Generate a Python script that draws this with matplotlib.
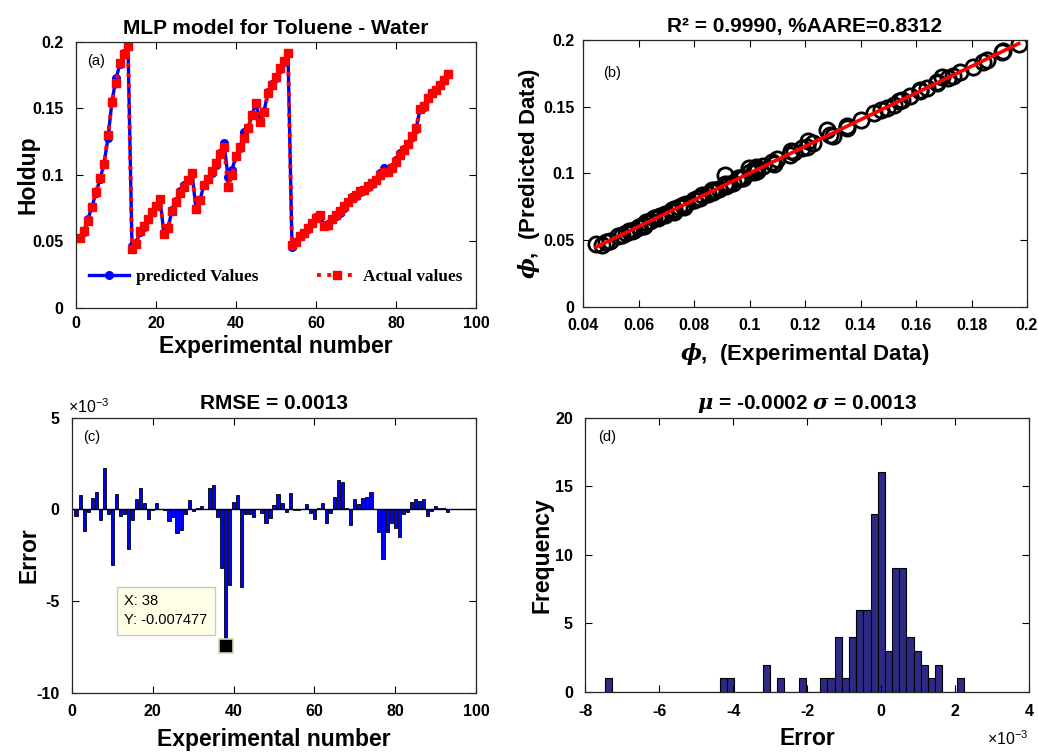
import numpy as np
import matplotlib
matplotlib.use("Agg")
import matplotlib.pyplot as plt
from matplotlib.ticker import MultipleLocator, FormatStrFormatter, FuncFormatter

plt.rcParams["font.family"] = ["Liberation Sans", "DejaVu Sans"]
plt.rcParams["font.weight"] = "bold"
plt.rcParams["axes.unicode_minus"] = False
plt.rcParams["mathtext.fontset"] = "custom"
plt.rcParams["mathtext.rm"] = "Liberation Sans:regular"
plt.rcParams["mathtext.it"] = "DejaVu Serif:italic:bold"
plt.rcParams["mathtext.bf"] = "Liberation Sans:bold"

# ---------------------------------------------------------------- data
# measured hold-up for the 93 experimental runs
actual = np.array([
    0.0525, 0.0582, 0.0657, 0.0760, 0.0870, 0.0977, 0.1080, 0.1300, 0.1550, 0.1695,
    0.1840, 0.1910, 0.1970, 0.0447, 0.0482, 0.0577, 0.0620, 0.0670, 0.0720, 0.0770,
    0.0820, 0.0555, 0.0600, 0.0727, 0.0800, 0.0865, 0.0910, 0.0960, 0.1015, 0.0747,
    0.0815, 0.0925, 0.0970, 0.1027, 0.1087, 0.1160, 0.1210, 0.0912, 0.0999, 0.1145,
    0.1207, 0.1280, 0.1350, 0.1450, 0.1540, 0.1400, 0.1475, 0.1615, 0.1677, 0.1735,
    0.1805, 0.1855, 0.1915, 0.0470, 0.0497, 0.0540, 0.0567, 0.0600, 0.0640, 0.0677,
    0.0697, 0.0620, 0.0627, 0.0670, 0.0697, 0.0727, 0.0765, 0.0800, 0.0827, 0.0850,
    0.0877, 0.0890, 0.0915, 0.0940, 0.0965, 0.1000, 0.1025, 0.1020, 0.1050, 0.1100,
    0.1150, 0.1190, 0.1230, 0.1290, 0.1350, 0.1497, 0.1520, 0.1577, 0.1615, 0.1640,
    0.1677, 0.1715, 0.1757,
])

# target - output of the MLP, in units of 1e-3
error_e3 = np.array([
    -0.35, 0.75, -1.18, -0.16, 0.60, 0.96, -0.58, 2.24, -0.27, -3.07,
    0.82, -0.35, -0.27, -2.15, -0.60, 0.56, 1.18, 0.33, -0.51, -0.02,
    0.35, 0.01, -0.02, -0.66, -0.45, -1.30, -1.14, -0.28, 0.50, -0.08,
    0.05, 0.15, 0.02, 1.13, 1.30, -0.45, -3.18, -7.477, -4.16, 0.42,
    0.78, -4.22, -0.28, -0.24, -0.40, -0.01, -0.22, -0.76, -0.50, 0.24,
    0.84, 0.33, -0.13, 0.91, -0.05, -0.05, 0.02, 0.30, -0.18, -0.53,
    0.05, 0.33, -0.76, -0.22, 0.64, 1.60, 1.50, 0.08, -0.84, 0.55,
    0.30, 0.60, 0.67, 0.95, 0.01, -1.24, -2.70, -1.24, -0.76, -1.00,
    -1.53, -0.27, -0.13, 0.42, 0.56, 0.47, 0.56, -0.35, -0.08, 0.16,
    0.05, 0.04, -0.16,
])

error = error_e3 * 1e-3
predicted = actual - error
exp_no = np.arange(1, len(actual) + 1)

tip_idx = 38
n_bins = 50

milli = FuncFormatter(lambda v, p: f"{v * 1e3:g}")


def matlab_axes(ax, xpad=6, ypad=9):
    """Box on, inward ticks on every side, bold tick labels."""
    ax.tick_params(direction="in", top=True, right=True, length=5, width=0.8,
                   labelsize=11.5)
    ax.tick_params(axis="x", pad=xpad)
    ax.tick_params(axis="y", pad=ypad)
    for s in ax.spines.values():
        s.set_linewidth(0.9)
        s.set_color("#262626")


def exp_label(ax, x, y, ha):
    ax.text(x, y, r"$\times10^{-3}$", transform=ax.transAxes, ha=ha,
            va="bottom", fontsize=11.5, fontweight="normal")


fig = plt.figure(figsize=(10.38, 7.53), dpi=100)

# ---- (a) predicted vs actual along the run number
ax = fig.add_axes([0.0732, 0.591, 0.3854, 0.3533])
ax.plot(exp_no, predicted, "-o", color="#0000ff", lw=2.4, ms=5.5,
        label="predicted Values")
ax.plot(exp_no, actual, ":s", color="#ff0000", lw=2.8, ms=6,
        label="Actual values")
ax.set_xlim(0, 100)
ax.set_ylim(0, 0.2)
ax.xaxis.set_major_locator(MultipleLocator(20))
ax.yaxis.set_major_locator(MultipleLocator(0.05))
ax.yaxis.set_major_formatter(FormatStrFormatter("%g"))
ax.set_title("MLP model for Toluene - Water", fontsize=15, fontweight="bold")
ax.set_xlabel("Experimental number", fontsize=16.5, fontweight="bold", labelpad=3)
ax.set_ylabel("Holdup", fontsize=16.5, fontweight="bold")
ax.yaxis.set_label_coords(-0.09, 0.5)
ax.text(0.028, 0.93, "(a)", transform=ax.transAxes, fontsize=10.5,
        fontweight="normal", va="center")
ax.legend(loc="center", bbox_to_anchor=(0.5, 0.115), ncol=2, frameon=False,
          prop={"family": "Liberation Serif", "weight": "bold", "size": 12.4},
          handlelength=2.3, columnspacing=3.4, handletextpad=0.4)
matlab_axes(ax)

# ---- (b) parity plot with least-squares line
ax = fig.add_axes([0.5617, 0.5923, 0.4277, 0.3546])
ax.plot(actual, predicted, "o", mfc="none", mec="k", ms=11, mew=2.0)
coef = np.polyfit(actual, predicted, 1)
xs = np.array([actual.min(), actual.max()])
ax.plot(xs, np.polyval(coef, xs), "-", color="#ff0000", lw=2.6)
ax.set_xlim(0.04, 0.2)
ax.set_ylim(0, 0.2)
ax.xaxis.set_major_locator(MultipleLocator(0.02))
ax.yaxis.set_major_locator(MultipleLocator(0.05))
ax.xaxis.set_major_formatter(FormatStrFormatter("%g"))
ax.yaxis.set_major_formatter(FormatStrFormatter("%g"))
ax.set_title("R² = 0.9990, %AARE=0.8312", fontsize=15, fontweight="bold")
ax.set_xlabel(r"$\phi$,  (Experimental Data)", fontsize=16, fontweight="bold",
              labelpad=6)
ax.set_ylabel(r"$\phi$,  (Predicted Data)", fontsize=16, fontweight="bold")
ax.yaxis.set_label_coords(-0.092, 0.5)
ax.text(0.045, 0.875, "(b)", transform=ax.transAxes, fontsize=10.5,
        fontweight="normal", va="center")
matlab_axes(ax, xpad=8, ypad=6)

# ---- (c) error per run
ax = fig.add_axes([0.0694, 0.0803, 0.3892, 0.3652])
ax.bar(exp_no, error, width=0.8, color="#0000ff", edgecolor="k", lw=0.6)
ax.axhline(0, color="k", lw=1.0)
ax.set_xlim(0, 100)
ax.set_ylim(-0.01, 0.005)
ax.xaxis.set_major_locator(MultipleLocator(20))
ax.yaxis.set_major_locator(MultipleLocator(0.005))
ax.yaxis.set_major_formatter(milli)
ax.set_title("RMSE = 0.0013", fontsize=15, fontweight="bold")
ax.set_xlabel("Experimental number", fontsize=16.5, fontweight="bold", labelpad=6)
ax.set_ylabel("Error", fontsize=16.5, fontweight="bold")
ax.yaxis.set_label_coords(-0.078, 0.5)
ax.text(0.028, 0.93, "(c)", transform=ax.transAxes, fontsize=10.5,
        fontweight="normal", va="center")
exp_label(ax, -0.01, 1.005, "left")
# data tip on the largest deviation
tx, ty = exp_no[tip_idx - 1], error[tip_idx - 1]
ax.plot(tx, ty, "s", color="k", mec="#d9d6a6", mew=1.2, ms=9.5, zorder=5)
ax.annotate(f"X: {tx}\nY: {ty:.6f}", xy=(tx, ty), xytext=(-18, 19),
            textcoords="offset pixels", ha="right", va="bottom",
            multialignment="left", fontsize=10.5, fontweight="normal",
            linespacing=1.45,
            bbox=dict(boxstyle="square,pad=0.5", fc="#ffffe6", ec="#c8c8c8",
                      lw=1.0), zorder=6)
matlab_axes(ax, xpad=8.5)

# ---- (d) error histogram
ax = fig.add_axes([0.564, 0.081, 0.4273, 0.3645])
ax.hist(error, bins=n_bins, color="#2d2a86", edgecolor="k", lw=0.8)
ax.set_xlim(-0.008, 0.004)
ax.set_ylim(0, 20)
ax.xaxis.set_major_locator(MultipleLocator(0.002))
ax.yaxis.set_major_locator(MultipleLocator(5))
ax.xaxis.set_major_formatter(milli)
ax.set_title(r"$\mu$ = -0.0002 $\sigma$ = 0.0013", fontsize=15, fontweight="bold")
ax.set_xlabel("Error", fontsize=16.5, fontweight="bold", labelpad=6)
ax.set_ylabel("Frequency", fontsize=16.5, fontweight="bold")
ax.yaxis.set_label_coords(-0.072, 0.5)
ax.text(0.028, 0.93, "(d)", transform=ax.transAxes, fontsize=10.5,
        fontweight="normal", va="center")
exp_label(ax, 1.0, -0.205, "right")
matlab_axes(ax, xpad=8.5)

fig.savefig("out.png", dpi=100)
